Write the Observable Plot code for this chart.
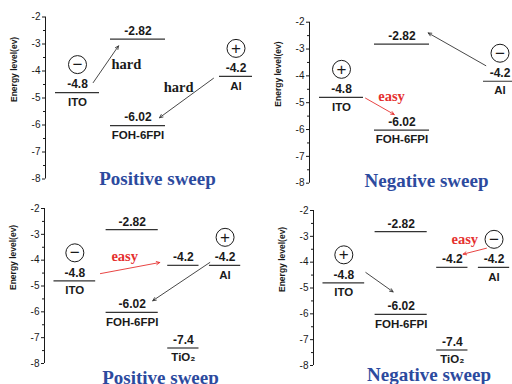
<!DOCTYPE html>
<html><head><meta charset="utf-8">
<script src="https://cdn.jsdelivr.net/npm/d3@7"></script>
<script src="https://cdn.jsdelivr.net/npm/@observablehq/plot@0.6"></script>
<style>
body{margin:0;background:#fff;}
#grid{display:grid;grid-template-columns:256px 256px;grid-template-rows:192px 192px;width:512px;height:384px;}
#grid>div{width:256px;height:192px;overflow:hidden;position:relative;}
</style></head><body><div id="grid"></div>
<script>
// ---- data ----
const panelTitles = ["Positive sweep", "Negative sweep", "Positive sweep", "Negative sweep"];
const panelHasTiO2 = [false, false, true, true];

const levelColumns = ["ITO", "FOH-6FPI", "FOH-6FPI", "TiO2", "TiO2", "Al"];
const levelEnergies = [-4.8, -2.82, -6.02, -4.2, -7.4, -4.2];
const levelValueLabels = ["-4.8", "-2.82", "-6.02", "-4.2", "-7.4", "-4.2"];
const levelNameLabels = ["ITO", "", "FOH-6FPI", "", "TiO₂", "Al"];

const itoCharge = ["−", "+", "−", "+"];
const alCharge = ["+", "−", "+", "−"];

const yTicks = [-2, -3, -4, -5, -6, -7, -8];
const yMinorTicks = [-2.5, -3.5, -4.5, -5.5, -6.5, -7.5];
const yLabel = "Energy level(ev)";

// arrows: panel index, start/end (diagram units, eV), label, kind
const arrowPanel = [0, 0, 1, 1, 2, 2, 3, 3];
const arrowX1 = [47.7, 168, 176.3, 56, 59, 174.4, 55.2, 182.5];
const arrowY1 = [-4.43, -4.27, -3.62, -4.83, -4.52, -4.09, -4.40, -3.46];
const arrowX2 = [73, 114, 118.7, 84.7, 121.6, 114.2, 84, 157.9];
const arrowY2 = [-3.07, -5.73, -2.40, -5.44, -4.09, -5.57, -5.15, -3.69];
const arrowLabels = ["hard", "hard", "", "easy", "easy", "", "", "easy"];
const arrowEasy = [false, false, false, true, true, false, false, true];

// ---- layout (not data) ----
const columnSpan = {"ITO": [10, 54], "FOH-6FPI": [65, 120], "TiO2": [130, 163], "Al": [174, 207]};
const panelLayout = [
  {mL: 45, mR: 0, mT: 16.5, mB: 13.5, xMax: 211, tdx: 6.5, tdy: -0.5},
  {mL: 53, mR: 0, mT: 21.7, mB: 9.3, xMax: 203, tdx: 15.5, tdy: -2.7},
  {mL: 44, mR: 12, mT: 16, mB: 21, xMax: 211, tdx: 16, tdy: 14},
  {mL: 57, mR: 0, mT: 18, mB: 19, xMax: 210, tdx: 16, tdy: 9.7}
];
const labelOffsets = [
  {anchor: "start", dx: 5.7, dy: 0},
  {anchor: "end", dx: 7, dy: -10.5},
  {anchor: "middle", dx: 0, dy: 0},
  {anchor: "start", dx: -1.6, dy: -10},
  {anchor: "middle", dx: -5.4, dy: -12},
  {anchor: "middle", dx: 0, dy: 0},
  {anchor: "middle", dx: 0, dy: 0},
  {anchor: "middle", dx: -10, dy: -11.4}
];

const BLUE = "#2c4a9e", RED = "#e5302f", INK = "#1a1a1a", LINE = "#333";
const sans = "'Liberation Sans', Arial, sans-serif";
const serif = "'Liberation Serif', 'Times New Roman', serif";

const mid = c => (columnSpan[c][0] + columnSpan[c][1]) / 2;

const grid = document.getElementById("grid");
panelTitles.forEach((title, p) => {
  const L = panelLayout[p];
  const levels = levelColumns.map((c, i) => ({col: c, energy: levelEnergies[i], value: levelValueLabels[i], name: levelNameLabels[i]}))
    .filter(d => panelHasTiO2[p] || d.col !== "TiO2");
  const charges = [{col: "ITO", energy: -4.8, sign: itoCharge[p]}, {col: "Al", energy: -4.2, sign: alCharge[p]}];
  const arrows = arrowPanel.map((q, i) => ({i, q, x1: arrowX1[i], y1: arrowY1[i], x2: arrowX2[i], y2: arrowY2[i], label: arrowLabels[i], easy: arrowEasy[i]}))
    .filter(d => d.q === p);

  const marks = [
    Plot.ruleX([0], {y1: -8, y2: -2, stroke: INK, strokeWidth: 1}),
    Plot.axisY(yTicks, {tickSize: 3, tickPadding: 2, tickFormat: d => String(d), fontSize: 10, color: INK, label: null}),
    Plot.axisY(yMinorTicks, {tickSize: 2, tickFormat: () => "", color: INK, label: null}),
    Plot.text([yLabel], {frameAnchor: "left", rotate: -90, dx: -31, dy: 4, fontSize: 8.5, fontWeight: "bold", fill: INK, fontFamily: sans}),
    Plot.ruleY(levels, {y: "energy", x1: d => columnSpan[d.col][0], x2: d => columnSpan[d.col][1], stroke: LINE, strokeWidth: 1.2}),
    Plot.text(levels, {x: d => mid(d.col), y: "energy", text: "value", dy: -8, fontSize: 12, fontWeight: "bold", fill: INK, fontFamily: sans}),
    Plot.text(levels, {x: d => mid(d.col), y: "energy", text: "name", dy: 9.5, fontSize: 11.5, fontWeight: "bold", fill: INK, fontFamily: sans}),
    Plot.dot(charges, {x: d => mid(d.col), y: "energy", dy: -28, r: 9, stroke: INK, strokeWidth: 1, fill: "white"}),
    Plot.text(charges, {x: d => mid(d.col), y: "energy", text: "sign", dy: -28, fontSize: 17, fill: INK, fontFamily: sans}),
    Plot.arrow(arrows, {x1: "x1", y1: "y1", x2: "x2", y2: "y2", stroke: d => d.easy ? RED : LINE, strokeWidth: 0.9, headLength: 6, headAngle: 50}),
    ...arrows.filter(d => d.label).map(d => {
      const o = labelOffsets[d.i];
      return Plot.text([d], {x: a => (a.x1 + a.x2) / 2, y: a => (a.y1 + a.y2) / 2, text: "label", textAnchor: o.anchor, dx: o.dx, dy: o.dy,
        fontSize: 14.5, fontWeight: "bold", fontFamily: serif, fill: d.easy ? RED : INK});
    }),
    Plot.text([title], {frameAnchor: "bottom", dx: L.tdx, dy: L.tdy, lineAnchor: "middle", fontSize: 19, fontWeight: "bold", fontFamily: serif, fill: BLUE})
  ];

  const svg = Plot.plot({
    width: 256, height: 192,
    marginLeft: L.mL, marginRight: L.mR, marginTop: L.mT, marginBottom: L.mB,
    x: {domain: [0, L.xMax], axis: null},
    y: {domain: [-8, -2], axis: null},
    style: {fontFamily: sans, background: "white", overflow: "hidden"},
    marks
  });
  const cell = document.createElement("div");
  cell.appendChild(svg);
  grid.appendChild(cell);
});
</script>
</body></html>
